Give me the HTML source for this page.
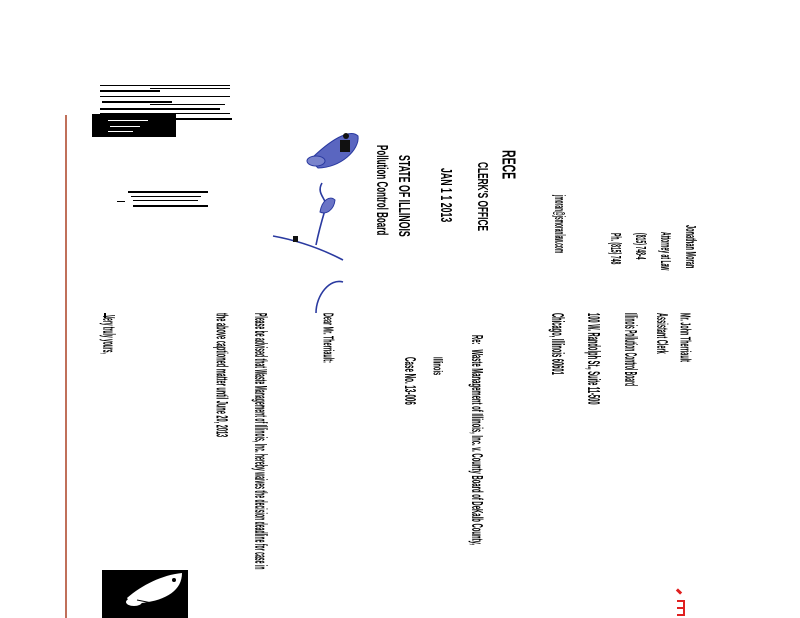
<!DOCTYPE html>
<html><head><meta charset="utf-8">
<style>
html,body{margin:0;padding:0;background:#fff;}
body{width:800px;height:618px;position:relative;overflow:hidden;font-family:"Liberation Sans",sans-serif;color:#000;}
.r{position:absolute;white-space:nowrap;transform-origin:0 0;font-size:16px;line-height:16px;font-weight:bold;}
.n{font-weight:normal;}
.bar{position:absolute;background:#000;}
</style></head><body>
<div style="position:absolute;left:65px;top:115px;width:2px;height:503px;background:#c0705a;"></div>

<div class="bar" style="left:100px;top:85px;width:130px;height:1px"></div>
<div class="bar" style="left:100px;top:90px;width:60px;height:2px"></div>
<div class="bar" style="left:150px;top:88px;width:80px;height:1px"></div>
<div class="bar" style="left:100px;top:96px;width:130px;height:1px"></div>
<div class="bar" style="left:102px;top:101px;width:70px;height:2px"></div>
<div class="bar" style="left:150px;top:104px;width:75px;height:1px"></div>
<div class="bar" style="left:100px;top:108px;width:120px;height:2px"></div>
<div class="bar" style="left:100px;top:113px;width:130px;height:1px"></div>
<div class="bar" style="left:92px;top:114px;width:84px;height:23px"></div>
<div class="bar" style="left:176px;top:118px;width:56px;height:2px"></div>
<div style="position:absolute;left:108px;top:120px;width:40px;height:1px;background:#fff"></div>
<div style="position:absolute;left:110px;top:126px;width:30px;height:1px;background:#fff"></div>
<div style="position:absolute;left:108px;top:131px;width:25px;height:1px;background:#fff"></div>

<div class="bar" style="left:128px;top:191px;width:80px;height:2px"></div>
<div class="bar" style="left:131px;top:196px;width:70px;height:1px"></div>
<div class="bar" style="left:117px;top:201px;width:8px;height:1px"></div>
<div class="bar" style="left:133px;top:200px;width:65px;height:1px"></div>
<div class="bar" style="left:133px;top:205px;width:75px;height:2px"></div>

<svg style="position:absolute;left:0;top:0" width="800" height="618">
<g fill="none" stroke="#2a3aa0" stroke-width="1.6">
<path d="M322,183 C315,195 330,200 325,210 C322,220 318,235 316,245"/>
<path d="M273,236 C295,240 320,248 343,260"/>
<path d="M316,313 C316,295 330,278 343,282"/>
</g>
<path d="M310,160 C330,140 350,128 358,136 C360,150 340,168 318,168 Z" fill="#5a66c0" stroke="#2a3aa0"/>
<ellipse cx="316" cy="161" rx="9" ry="5" fill="#7a84cc" stroke="#2a3aa0"/>
<path d="M320,212 C322,200 330,195 335,200 C334,210 326,215 320,212 Z" fill="#6a74c6" stroke="#2a3aa0"/>
<rect x="340" y="140" width="10" height="12" fill="#111"/>
<circle cx="346" cy="136" r="3" fill="#111"/>
<rect x="293" y="236" width="5" height="6" fill="#111"/>
</svg>

<div class="r" style="left:697px;top:225px;transform:rotate(90deg) scale(0.35,0.9)">Jonathan Moran</div>
<div class="r" style="left:672px;top:232px;transform:rotate(90deg) scale(0.32,0.9)">Attorney at Law</div>
<div class="r" style="left:647px;top:233px;transform:rotate(90deg) scale(0.32,0.9)">(815) 748-4</div>
<div class="r" style="left:622px;top:233px;transform:rotate(90deg) scale(0.32,0.9)">Ph. (815) 748</div>
<div class="r" style="left:566px;top:195px;transform:rotate(90deg) scale(0.3,0.9)">jmoran@jsmoranlaw.com</div>

<div class="r" style="left:518px;top:150px;font-size:21px;line-height:21px;transform:rotate(90deg) scale(0.5,0.9)">RECE</div>
<div class="r" style="left:489px;top:162px;transform:rotate(90deg) scale(0.52,0.9)">CLERK'S OFFICE</div>
<div class="r" style="left:453px;top:168px;transform:rotate(90deg) scale(0.55,1)">JAN 1 1 2013</div>
<div class="r" style="left:411px;top:155px;transform:rotate(90deg) scale(0.55,1)">STATE OF ILLINOIS</div>
<div class="r" style="left:389px;top:145px;transform:rotate(90deg) scale(0.5,1)">Pollution Control Board</div>

<div class="r" style="left:692px;top:313px;transform:rotate(90deg) scale(0.34,0.95)">Mr. John Therriault</div>
<div class="r" style="left:669px;top:313px;transform:rotate(90deg) scale(0.35,1)">Assistant Clerk</div>
<div class="r" style="left:638px;top:313px;transform:rotate(90deg) scale(0.31,1.1)">Illinois Pollution Control Board</div>
<div class="r" style="left:601px;top:313px;transform:rotate(90deg) scale(0.36,1.1)">100 W. Randolph St., Suite 11-500</div>
<div class="r" style="left:565px;top:313px;transform:rotate(90deg) scale(0.36,1.1)">Chicago, Illinois 60601</div>

<div class="r" style="left:484px;top:335px;transform:rotate(90deg) scale(0.37,1)">Re:&nbsp;&nbsp;&nbsp;Waste Management of Illinois, Inc. v. County Board of DeKalb County,</div>
<div class="r" style="left:443px;top:357px;transform:rotate(90deg) scale(0.36,0.8)">Illinois</div>
<div class="r" style="left:417px;top:357px;transform:rotate(90deg) scale(0.39,1)">Case No. 13-006</div>

<div class="r" style="left:335px;top:313px;transform:rotate(90deg) scale(0.34,0.95)">Dear Mr. Therriault:</div>
<div class="r" style="left:268px;top:313px;transform:rotate(90deg) scale(0.32,1.1)">Please be advised that Waste Management of Illinois, Inc. hereby waives the decision deadline for case in</div>
<div class="r" style="left:229px;top:313px;transform:rotate(90deg) scale(0.35,1.05)">the above captioned matter until June 20, 2013</div>
<div class="r" style="left:116px;top:315px;transform:rotate(90deg) scale(0.31,1.1)">Very truly yours,</div>
<div class="bar" style="left:104px;top:313px;width:2px;height:5px"></div>

<div style="position:absolute;left:102px;top:570px;width:86px;height:48px;background:#000;overflow:hidden">
<svg width="86" height="48"><path d="M25,28 C40,15 60,5 80,3 C80,20 65,30 40,33 C32,34 28,33 25,28 Z" fill="#fff"/><ellipse cx="32" cy="32" rx="8" ry="4" fill="#fff"/><path d="M35,30 L60,35" stroke="#000" stroke-width="1"/><circle cx="72" cy="10" r="2" fill="#000"/></svg>
</div>

<div style="position:absolute;left:676px;top:590px;width:6px;height:3px;background:#e02020;transform:rotate(45deg)"></div>
<div style="position:absolute;left:677px;top:600px;width:8px;height:16px;border:2px solid #e02020;border-left:none;box-sizing:border-box"></div>
<div style="position:absolute;left:677px;top:607px;width:8px;height:2px;background:#e02020"></div>
</body></html>
